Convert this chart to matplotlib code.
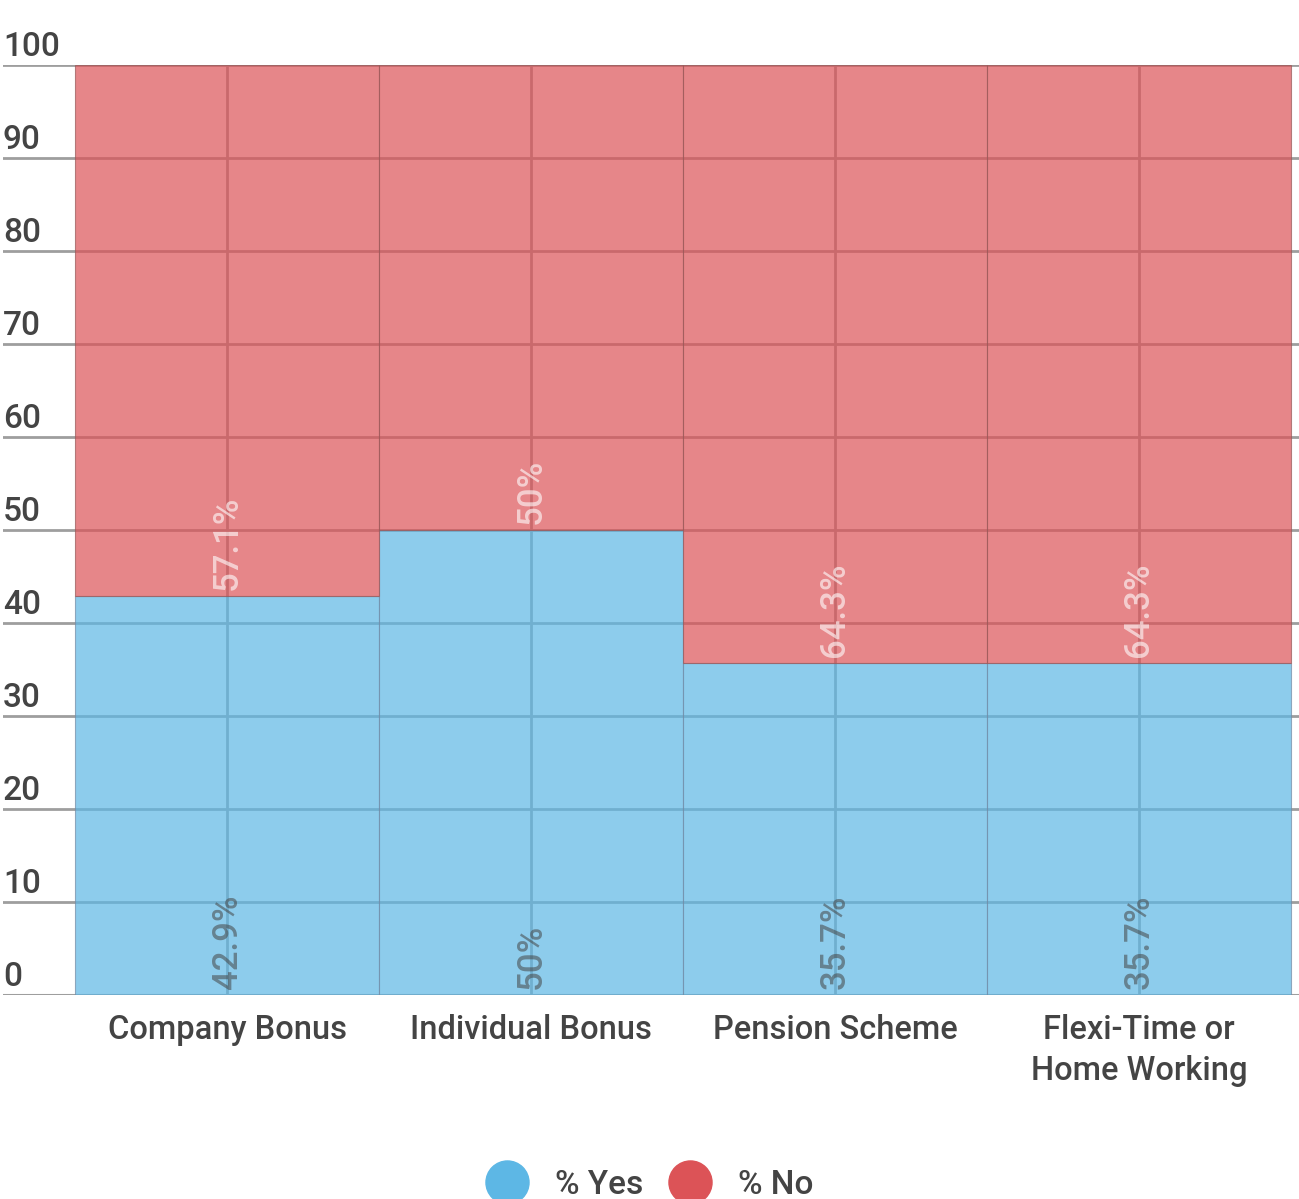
import matplotlib
matplotlib.use("Agg")
import matplotlib.pyplot as plt
from matplotlib.lines import Line2D

plt.rcParams['font.family'] = ['Roboto', 'DejaVu Sans']

categories = ["Company Bonus", "Individual Bonus", "Pension Scheme", "Flexi-Time or\nHome Working"]
yes_values = [42.9, 50.0, 35.7, 35.7]
no_values = [57.1, 50.0, 64.3, 64.3]
yes_labels = ["42.9%", "50%", "35.7%", "35.7%"]
no_labels = ["57.1%", "50%", "64.3%", "64.3%"]
series_names = ["% Yes", "% No"]
yticks = [0, 10, 20, 30, 40, 50, 60, 70, 80, 90, 100]

yes_color = "#5DB7E5"
no_color = "#DC5357"
text_color = "#444444"
grid_color = "#9E9E9E"
FW = 'medium'

W, H = 1299, 1199
fig = plt.figure(figsize=(W / 100, H / 100), dpi=100)

# pixel geometry
px_left, px_right = 3, 1299
bar_left, bar_right = 75, 1291
px_bottom, px_top = 995, 65
ncat = len(categories)
unit = (bar_right - bar_left) / ncat
xmin = -0.5 - (bar_left - px_left) / unit
xmax = (ncat - 0.5) + (px_right - bar_right) / unit

ax = fig.add_axes([px_left / W, 1 - px_bottom / H, (px_right - px_left) / W, (px_bottom - px_top) / H])
ax.set_xlim(xmin, xmax)
ax.set_ylim(0, 100)
for s in ax.spines.values():
    s.set_visible(False)
ax.set_xticks([])
ax.set_yticks([])

# horizontal gridlines
for t in yticks:
    ax.axhline(t, color=grid_color, lw=2.2 if t == 0 else 2, zorder=1)
    ax.annotate(str(t), (xmin, t), xytext=(0, 1.5), textcoords='offset points',
                ha='left', va='bottom', fontsize=24, color=text_color,
                fontweight=FW, zorder=5)

# vertical gridlines at category centers
x = list(range(ncat))
for xi in x:
    ax.plot([xi, xi], [0, 100], color=grid_color, lw=2, zorder=1)

ax.bar(x, yes_values, width=1.0, color=yes_color, alpha=0.7, zorder=2,
       edgecolor=(0.45, 0.55, 0.65, 0.5), linewidth=0.8)
ax.bar(x, no_values, bottom=yes_values, width=1.0, color=no_color, alpha=0.7, zorder=2,
       edgecolor=(0.6, 0.35, 0.35, 0.5), linewidth=0.8)

for xi, yv, yl, nl in zip(x, yes_values, yes_labels, no_labels):
    ax.annotate(yl, (xi, 0), xytext=(0, 4), textcoords='offset points',
                rotation=90, ha='center', va='bottom', fontsize=25,
                color=text_color, alpha=0.55, zorder=6, fontweight=FW)
    ax.annotate(nl, (xi, yv), xytext=(0, 4), textcoords='offset points',
                rotation=90, ha='center', va='bottom', fontsize=25,
                color='white', alpha=0.6, zorder=6, fontweight=FW)

# category labels
for xi, c in zip(x, categories):
    ax.annotate(c, (xi, 0), xytext=(0, -14), textcoords='offset points',
                ha='center', va='top', fontsize=23.5, color=text_color,
                linespacing=1.33, fontweight=FW)

handles = [Line2D([0], [0], marker='o', linestyle='none', markersize=31,
                  markerfacecolor=yes_color, markeredgecolor=yes_color),
           Line2D([0], [0], marker='o', linestyle='none', markersize=31,
                  markerfacecolor=no_color, markeredgecolor=no_color)]
leg = fig.legend(handles, series_names, loc='center', bbox_to_anchor=(643.5 / W, 1 - 1185 / H),
                 ncol=2, frameon=False, labelcolor=text_color,
                 handletextpad=0.45, columnspacing=0.4,
                 prop={'weight': FW, 'size': 24})

fig.savefig("out.png", dpi=100)
